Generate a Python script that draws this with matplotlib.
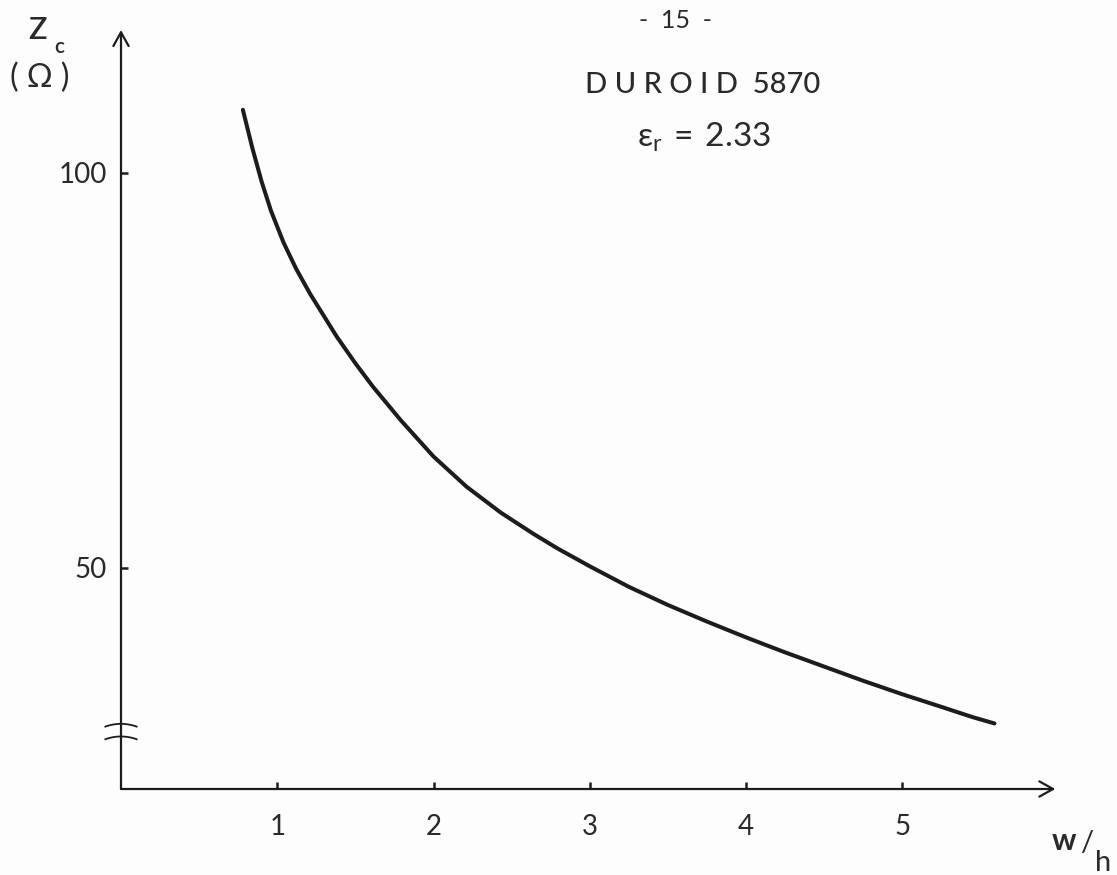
import numpy as np
import matplotlib.pyplot as plt

# Characteristic impedance of microstrip on Duroid 5870 (eps_r = 2.33)
w_h = [0.78, 0.84, 0.90, 0.96, 1.04, 1.12, 1.21, 1.38, 1.50, 1.61,
       1.79, 2.00, 2.21, 2.43, 2.64, 2.79, 3.00, 3.25, 3.50, 3.75,
       4.00, 4.25, 4.50, 4.75, 5.00, 5.25, 5.45, 5.59]
z_c = [108.0, 103.2, 98.9, 95.2, 91.2, 87.9, 84.7, 79.3, 75.9, 73.0,
       68.7, 64.1, 60.3, 57.0, 54.3, 52.5, 50.2, 47.6, 45.3, 43.2,
       41.2, 39.3, 37.5, 35.7, 34.0, 32.4, 31.1, 30.3]

x_ticks = [1, 2, 3, 4, 5]
x_tick_labels = ["1", "2", "3", "4", "5"]
y_ticks = [50, 100]
y_tick_labels = ["50", "100"]

ink = "#1c1c1c"
txt = "#2a2a2a"
plt.rcParams["font.family"] = ["Lato", "DejaVu Sans"]

fig = plt.figure(figsize=(11.17, 8.75), dpi=100)
fig.patch.set_facecolor("#fdfdfd")
ax = fig.add_axes([121 / 1117, 86 / 875, 937.5 / 1117, 759 / 875])
ax.set_facecolor("none")

x0, x1 = 0.0, 6.0
y0, y1 = 22.0, 118.1
ax.set_xlim(x0, x1)
ax.set_ylim(y0, y1)

for s in ax.spines.values():
    s.set_visible(False)

# hand-drawn style axes with open arrow heads
arrow = dict(arrowstyle="->,head_length=0.45,head_width=0.25", lw=1.6,
             color=ink, shrinkA=0, shrinkB=0, mutation_scale=22)
ax.annotate("", xy=(x1 - 0.02, y0), xytext=(x0, y0), arrowprops=arrow,
            annotation_clip=False)
ax.annotate("", xy=(x0, y1), xytext=(x0, y0), arrowprops=arrow,
            annotation_clip=False)

# the curve
ax.plot(w_h, z_c, color=ink, lw=2.9, solid_capstyle="round",
        solid_joinstyle="round")

# ticks
ax.set_xticks(x_ticks)
ax.set_xticklabels(x_tick_labels)
ax.set_yticks(y_ticks)
ax.set_yticklabels(y_tick_labels)
ax.tick_params(axis="both", direction="in", length=5, width=1.8,
               colors=ink, labelsize=20, labelcolor=txt)
ax.tick_params(axis="x", pad=18)
ax.tick_params(axis="y", pad=10)

# axis break marks on the y axis
t = np.linspace(-1, 1, 30)
for yb in (29.9, 28.3):
    ax.plot(0.10 * t, yb + 0.35 * (1 - t ** 2), color=ink, lw=1.3,
            clip_on=False)

# labels
fig.text(37 / 1117, 1 - 30 / 875, "Z", fontsize=22, color=txt,
         ha="center", va="center", fontweight="semibold")
fig.text(59 / 1117, 1 - 47 / 875, "c", fontsize=15, color=txt,
         ha="center", va="center", fontweight="semibold")
fig.text(40 / 1117, 1 - 78 / 875, "( Ω )", fontsize=23, color=txt,
         ha="center", va="center")

fig.text(1064 / 1117, 1 - 841 / 875, "w", fontsize=22, color=txt,
         ha="center", va="center", fontweight="bold")
fig.text(1087 / 1117, 1 - 843 / 875, "/", fontsize=21, color=txt,
         ha="center", va="center")
fig.text(1103 / 1117, 1 - 863 / 875, "h", fontsize=21, color=txt,
         ha="center", va="center")

fig.text(675 / 1117, 1 - 21 / 875, "-  15  -", fontsize=18, color=txt,
         ha="center", va="center")
fig.text(703 / 1117, 1 - 85 / 875, "D U R O I D  5870", fontsize=21,
         color=txt, ha="center", va="center", fontweight="medium")
fig.text(704 / 1117, 1 - 137 / 875, r"$\mathregular{\varepsilon_r\, =\, 2.33}$",
         fontsize=24, color=txt, ha="center", va="center")

fig.savefig("out.png", dpi=100, facecolor=fig.get_facecolor())
